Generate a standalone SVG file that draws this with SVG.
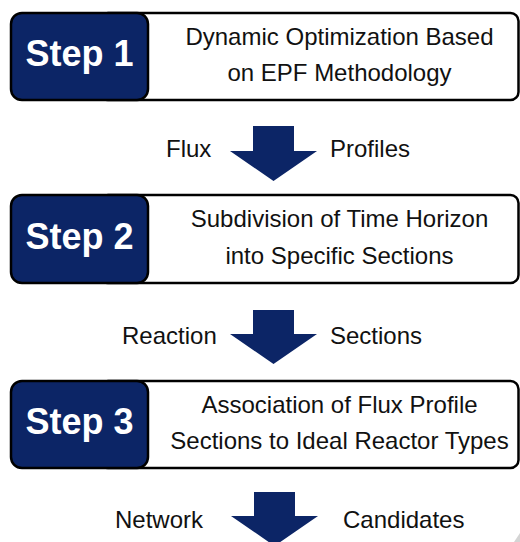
<svg xmlns="http://www.w3.org/2000/svg" width="520" height="542" viewBox="0 0 520 542">
<defs>
<style>
.frame{fill:#ffffff;stroke:#000000;stroke-width:2.5}
.step{fill:#0c2566;stroke:#000000;stroke-width:2.5}
.steptxt{font-family:"Liberation Sans",Arial,sans-serif;font-weight:bold;font-size:36px;fill:#ffffff;text-anchor:middle}
.body{font-family:"Liberation Sans",Arial,sans-serif;font-size:24px;fill:#111111;text-anchor:middle}
.lbl{font-family:"Liberation Sans",Arial,sans-serif;font-size:24px;fill:#111111}
.arrow{fill:#0c2566}
</style>
</defs>
<rect width="520" height="542" fill="#ffffff"/>
<g id="step1">
<rect class="frame" x="100" y="13" width="418.5" height="87" rx="8"/>
<rect class="step" x="11" y="13" width="137" height="87" rx="11"/>
<text class="steptxt" x="79.5" y="66">Step 1</text>
<text class="body" x="339.5" y="45">Dynamic Optimization Based</text>
<text class="body" x="339.5" y="81">on EPF Methodology</text>
</g>
<g id="step2">
<rect class="frame" x="100" y="195" width="418.5" height="88" rx="8"/>
<rect class="step" x="11" y="195" width="137" height="88" rx="11"/>
<text class="steptxt" x="79.5" y="249">Step 2</text>
<text class="body" x="339.5" y="227">Subdivision of Time Horizon</text>
<text class="body" x="339.5" y="264">into Specific Sections</text>
</g>
<g id="step3">
<rect class="frame" x="100" y="381" width="418.5" height="87" rx="8"/>
<rect class="step" x="11" y="381" width="137" height="87" rx="11"/>
<text class="steptxt" x="79.5" y="434">Step 3</text>
<text class="body" x="339.5" y="413">Association of Flux Profile</text>
<text class="body" x="339.5" y="449">Sections to Ideal Reactor Types</text>
</g>
<g id="connectors">
<polygon class="arrow" points="253,126 294,126 294,151 317,151 273.5,181 230,151 253,151"/>
<polygon class="arrow" points="253,310 294,310 294,334 317,334 273.5,364 230,334 253,334"/>
<polygon class="arrow" points="254,492 295,492 295,516 318,516 274.5,546 231,516 254,516"/>
<text class="lbl" x="166" y="157">Flux</text>
<text class="lbl" x="330" y="157">Profiles</text>
<text class="lbl" x="122" y="344">Reaction</text>
<text class="lbl" x="330" y="344">Sections</text>
<text class="lbl" x="115" y="528">Network</text>
<text class="lbl" x="343" y="528">Candidates</text>
</g>
<polygon points="514,542 520,542 520,533" fill="#d4d4d4"/>
</svg>
